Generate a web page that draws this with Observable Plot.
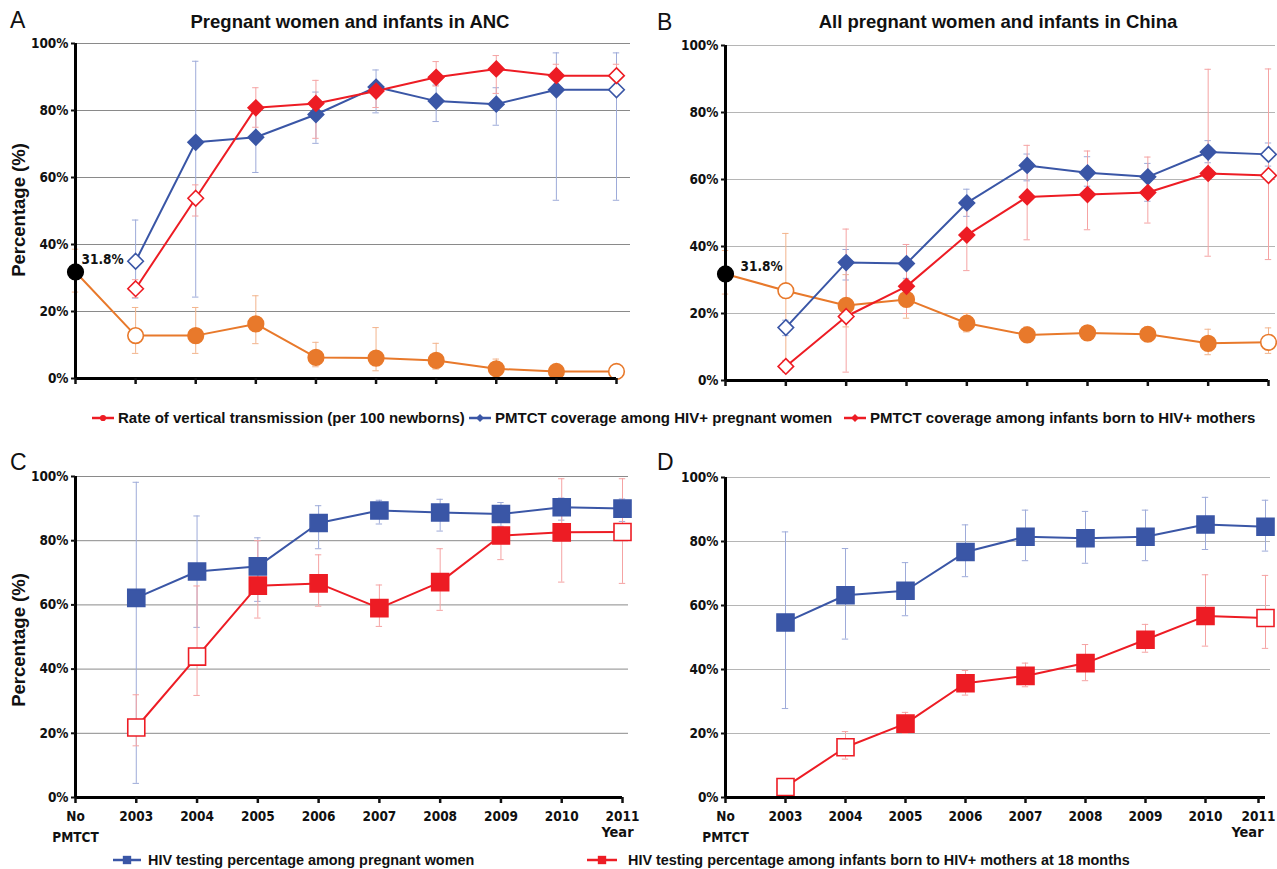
<!DOCTYPE html>
<html><head><meta charset="utf-8">
<script src="https://cdn.jsdelivr.net/npm/d3@7"></script>
<script src="https://cdn.jsdelivr.net/npm/@observablehq/plot@0.6"></script>
<style>
body{margin:0;background:#fff;width:1277px;height:869px;position:relative;overflow:hidden;font-family:"Liberation Sans",Arial,sans-serif;color:#111;}
.abs{position:absolute;}
.letter{font-size:23px;line-height:1;}
.title{font-size:18.5px;font-weight:bold;transform:translateX(-50%);white-space:nowrap;line-height:1;}
.ylab{font-size:18.5px;font-weight:bold;transform:translate(-50%,-50%) rotate(-90deg);white-space:nowrap;}
.leg{font-size:15px;font-weight:bold;white-space:nowrap;display:flex;align-items:center;}
.leg2{font-size:14.4px;}
.abs svg{overflow:visible;}
</style></head><body>
<script>
// ---------- categories ----------
const xLabels = ["No\nPMTCT","2003","2004","2005","2006","2007","2008","2009","2010","2011"];
const yTicks = [0,20,40,60,80,100];

// ---------- Panel A: Pregnant women and infants in ANC ----------
const aVT    = [31.8, 12.8, 12.8, 16.3, 6.3, 6.1, 5.4, 2.9, 2.1, 2.1];
const aVTlo  = [25.8, 7.5, 7.5, 10.4, 3.5, 2.3, 2.8, 1.5, 0.8, 0.8];
const aVThi  = [38.6, 21.2, 21.2, 24.7, 10.8, 15.2, 10.5, 5.8, 3.5, 3.5];
const aVTopen = [1, 9];
const aPW    = [null, 35.0, 70.5, 72.0, 78.8, 87.0, 82.8, 81.9, 86.2, 86.2];
const aPWlo  = [null, 24.0, 24.3, 61.5, 70.2, 79.3, 76.7, 75.6, 53.2, 53.2];
const aPWhi  = [null, 47.3, 94.7, 82.0, 85.5, 92.1, 87.6, 86.8, 97.2, 97.2];
const aPWopen = [1, 9];
const aINF   = [null, 26.8, 53.8, 80.8, 82.1, 85.8, 89.9, 92.4, 90.4, 90.4];
const aINFlo = [null, 24.2, 48.5, 75.0, 71.7, 80.9, 87.3, 85.1, 87.3, 87.3];
const aINFhi = [null, 29.5, 57.8, 86.8, 89.0, 87.3, 94.6, 96.4, 93.8, 93.8];
const aINFopen = [1, 2, 9];

// ---------- Panel B: All pregnant women and infants in China ----------
const bVT    = [31.8, 26.8, 22.4, 24.2, 17.1, 13.6, 14.2, 13.8, 11.1, 11.4];
const bVTlo  = [25.8, 4.0, 16.0, 18.6, 14.5, 12.0, 12.5, 12.0, 7.7, 8.1];
const bVThi  = [38.8, 43.9, 31.6, 30.0, 20.0, 16.0, 16.0, 16.0, 15.3, 15.7];
const bVTopen = [1, 9];
const bPW    = [null, 15.8, 35.2, 34.9, 53.0, 64.2, 62.0, 60.8, 68.2, 67.5];
const bPWlo  = [null, 13.4, 30.0, 30.5, 49.0, 59.6, 58.0, 53.5, 65.0, 64.0];
const bPWhi  = [null, 18.0, 39.1, 40.6, 57.1, 67.6, 66.8, 64.8, 71.6, 70.9];
const bPWopen = [1, 9];
const bINF   = [null, 4.2, 19.1, 28.1, 43.4, 54.8, 55.5, 56.1, 61.8, 61.2];
const bINFlo = [null, 2.5, 2.5, 20.0, 32.8, 42.0, 45.0, 47.0, 37.1, 36.1];
const bINFhi = [null, 6.0, 45.2, 40.6, 53.9, 70.2, 68.5, 66.7, 92.9, 93.0];
const bINFopen = [1, 2, 9];

// ---------- Panel C ----------
const cPW    = [null, 62.2, 70.4, 72.0, 85.5, 89.4, 88.8, 88.3, 90.4, 90.0];
const cPWlo  = [null, 4.4, 53.0, 61.1, 77.5, 85.2, 83.0, 84.5, 86.4, 86.0];
const cPWhi  = [null, 98.2, 87.7, 80.9, 90.9, 92.6, 92.9, 91.9, 93.3, 93.0];
const cPWopen = [];
const cINF   = [null, 21.8, 43.9, 66.0, 66.7, 59.0, 67.1, 81.6, 82.6, 82.7];
const cINFlo = [null, 16.1, 31.8, 55.9, 59.6, 53.3, 58.3, 74.1, 67.1, 66.7];
const cINFhi = [null, 32.0, 65.9, 80.0, 75.6, 66.2, 77.5, 84.0, 99.3, 99.3];
const cINFopen = [1, 2, 9];

// ---------- Panel D ----------
const dPW    = [null, 54.7, 63.2, 64.6, 76.7, 81.5, 81.0, 81.5, 85.3, 84.6];
const dPWlo  = [null, 27.8, 49.5, 56.8, 69.0, 74.0, 73.2, 74.0, 77.5, 77.0];
const dPWhi  = [null, 83.0, 77.8, 73.4, 85.2, 89.8, 89.4, 89.8, 93.8, 92.9];
const dPWopen = [];
const dINF   = [null, 3.3, 15.7, 23.1, 35.7, 38.0, 42.0, 49.3, 56.7, 56.1];
const dINFlo = [null, null, 12.0, 20.0, 32.0, 34.6, 36.5, 45.4, 47.3, 46.6];
const dINFhi = [null, null, 20.6, 26.6, 39.7, 42.0, 47.8, 54.1, 69.6, 69.4];
const dINFopen = [1, 2, 9];

// ---------- legend / text ----------
const titleA = "Pregnant women and infants in ANC";
const titleB = "All pregnant women and infants in China";
const yLabel = "Percentage (%)";
const legend1 = ["Rate of vertical transmission (per 100 newborns)", "PMTCT coverage among HIV+ pregnant women", "PMTCT coverage among infants born to HIV+ mothers"];
const legend2 = ["HIV testing percentage among pregnant women", "HIV testing percentage among infants born to HIV+ mothers at 18 months"];
const baseLabel = "31.8%";

const BLUE = "#3a56a6", RED = "#ed1c24", ORANGE = "#e8792b";
const BLUE_L = "#9eabd9", RED_L = "#f5a3a3", ORANGE_L = "#f2b48c";
const TICKFONT = "'DejaVu Sans Condensed', 'Liberation Sans', Arial, sans-serif";

function rows(vals, lo, hi, openIdx, blackFirst) {
  return vals.map((v, i) => ({x: i, v, lo: lo[i], hi: hi[i], open: openIdx.includes(i), black: blackFirst && i === 0}))
             .filter(d => d.v != null);
}

function panel(o) {
  const ppu = (o.x9 - o.x0) / 9;
  const dmax = 9 + (o.xEnd - o.x9) / ppu;
  const marginLeft = o.x0 - o.left;
  const marginRight = o.width - (o.xEnd - o.left);
  const marginTop = o.y100 - o.top;
  const marginBottom = o.height - (o.y0 - o.top);
  const cap = 3.2 / ppu;
  const marks = [];
  marks.push(Plot.ruleY([20, 40, 60, 80, 100], {x1: 0, x2: dmax, stroke: o.grid, strokeWidth: 1}));
  for (const s of o.series) {
    const eb = s.rows.filter(d => d.lo != null && d.hi != null);
    marks.push(Plot.ruleX(eb, {x: "x", y1: "lo", y2: "hi", stroke: s.light, strokeWidth: 1}));
    marks.push(Plot.ruleY(eb, {y: "lo", x1: d => d.x - cap, x2: d => d.x + cap, stroke: s.light, strokeWidth: 1}));
    marks.push(Plot.ruleY(eb, {y: "hi", x1: d => d.x - cap, x2: d => d.x + cap, stroke: s.light, strokeWidth: 1}));
  }
  for (const s of o.series) {
    marks.push(Plot.line(s.rows, {x: "x", y: "v", stroke: s.color, strokeWidth: 2}));
  }
  for (const s of o.series) {
    marks.push(Plot.dot(s.rows, {
      x: "x", y: "v", symbol: s.symbol, r: s.r,
      fill: d => d.black ? "#000" : d.open ? "#fff" : s.color,
      stroke: d => d.black ? "#000" : s.color,
      strokeWidth: 1.6
    }));
  }
  marks.push(Plot.ruleX([0], {y1: 0, y2: 100, stroke: "#000", strokeWidth: 3}));
  marks.push(Plot.ruleY([0], {x1: 0, x2: 9, stroke: "#000", strokeWidth: 3}));
  marks.push(Plot.axisY(yTicks, {tickFormat: d => d + "%", tickSize: 4, tickPadding: 3, strokeWidth: 2, fontSize: 13.5, fontWeight: "bold", fontFamily: TICKFONT, label: null}));
  const xfmt = o.xlabels ? (d => xLabels[d]) : (() => "");
  const axOpts = {tickFormat: xfmt, tickSize: 6, tickPadding: 2, strokeWidth: 2.5, fontSize: 13.5, fontWeight: "bold", fontFamily: TICKFONT, lineHeight: 1.6, label: null};
  marks.push(Plot.axisX(d3.range(9), axOpts));
  marks.push(Plot.axisX([9], {...axOpts, dx: o.lastDx || 0}));
  if (o.base) {
    marks.push(Plot.text([{x: 0, y: 31.8}], {x: "x", y: "y", text: () => baseLabel, dx: o.base.dx, dy: o.base.dy, textAnchor: "start", fontSize: 13.5, fontWeight: "bold", fontFamily: TICKFONT}));
  }
  if (o.year) {
    marks.push(Plot.text([{x: 9, y: 0}], {x: "x", y: "y", text: () => "Year", dx: o.year.dx, dy: o.year.dy, fontSize: 14.5, fontWeight: "bold", fontFamily: TICKFONT}));
  }
  const svg = Plot.plot({
    width: o.width, height: o.height,
    marginLeft, marginRight, marginTop, marginBottom,
    x: {domain: [0, dmax]},
    y: {domain: [0, 100]},
    color: {type: "identity"},
    style: {fontFamily: "'Liberation Sans', Arial, sans-serif", fontSize: "13px", color: "#111", background: "transparent", overflow: "visible"},
    marks
  });
  const div = document.createElement("div");
  div.className = "abs";
  div.style.left = o.left + "px";
  div.style.top = o.top + "px";
  div.appendChild(svg);
  document.body.appendChild(div);
}

function addText(cls, text, left, top) {
  const d = document.createElement("div");
  d.className = "abs " + cls;
  d.style.left = left + "px";
  d.style.top = top + "px";
  d.textContent = text;
  document.body.appendChild(d);
  return d;
}

const DIAMOND = "diamond2", SQUARE = "square", CIRCLE = "circle";

panel({left: 0, top: 0, width: 640, height: 400, x0: 75, x9: 616, xEnd: 630, y100: 43, y0: 378, grid: "#8a8a8a",
  base: {dx: 6, dy: -12},
  series: [
    {rows: rows(aVT, aVTlo, aVThi, aVTopen, true), color: ORANGE, light: ORANGE_L, symbol: CIRCLE, r: 7.8},
    {rows: rows(aPW, aPWlo, aPWhi, aPWopen), color: BLUE, light: BLUE_L, symbol: DIAMOND, r: 7},
    {rows: rows(aINF, aINFlo, aINFhi, aINFopen), color: RED, light: RED_L, symbol: DIAMOND, r: 7}
  ]});

panel({left: 645, top: 0, width: 632, height: 400, x0: 725, x9: 1268, xEnd: 1275, y100: 45, y0: 380, grid: "#b5b5b5",
  base: {dx: 15, dy: -7},
  series: [
    {rows: rows(bVT, bVTlo, bVThi, bVTopen, true), color: ORANGE, light: ORANGE_L, symbol: CIRCLE, r: 7.8},
    {rows: rows(bPW, bPWlo, bPWhi, bPWopen), color: BLUE, light: BLUE_L, symbol: DIAMOND, r: 7},
    {rows: rows(bINF, bINFlo, bINFhi, bINFopen), color: RED, light: RED_L, symbol: DIAMOND, r: 7}
  ]});

panel({left: 0, top: 440, width: 645, height: 410, x0: 75, x9: 622, xEnd: 628, y100: 476, y0: 797, grid: "#8a8a8a",
  xlabels: true, year: {dx: -5, dy: 35},
  series: [
    {rows: rows(cPW, cPWlo, cPWhi, cPWopen), color: BLUE, light: BLUE_L, symbol: SQUARE, r: 9.6},
    {rows: rows(cINF, cINFlo, cINFhi, cINFopen), color: RED, light: RED_L, symbol: SQUARE, r: 9.6}
  ]});

panel({left: 645, top: 440, width: 632, height: 410, x0: 725, x9: 1265, xEnd: 1270, y100: 477, y0: 797, grid: "#b5b5b5",
  xlabels: true, year: {dx: -18, dy: 35}, lastDx: -7,
  series: [
    {rows: rows(dPW, dPWlo, dPWhi, dPWopen), color: BLUE, light: BLUE_L, symbol: SQUARE, r: 9.6},
    {rows: rows(dINF, dINFlo, dINFhi, dINFopen), color: RED, light: RED_L, symbol: SQUARE, r: 9.6}
  ]});

// panel letters, titles, axis labels
addText("letter", "A", 10, 9);
addText("letter", "B", 657, 11);
addText("letter", "C", 10, 451);
addText("letter", "D", 657, 451);
addText("title", titleA, 350, 13);
addText("title", titleB, 998, 13);
addText("ylab", yLabel, 19, 210);
addText("ylab", yLabel, 19, 640);

// legends
function legendItem(left, top, text, color, symbol, lineW, cls, gap) {
  const d = document.createElement("div");
  d.className = "abs leg " + (cls || "");
  d.style.left = left + "px";
  d.style.top = top + "px";
  const ns = "http://www.w3.org/2000/svg";
  const svg = document.createElementNS(ns, "svg");
  svg.setAttribute("width", lineW);
  svg.setAttribute("height", 14);
  svg.style.marginRight = (gap || 4) + "px";
  const line = document.createElementNS(ns, "line");
  line.setAttribute("x1", 0); line.setAttribute("x2", lineW);
  line.setAttribute("y1", 7); line.setAttribute("y2", 7);
  line.setAttribute("stroke", color); line.setAttribute("stroke-width", 2.5);
  svg.appendChild(line);
  const m = document.createElementNS(ns, "path");
  const c = lineW / 2;
  let p;
  if (symbol === "circle") p = d3.symbol(d3.symbolCircle, 30)();
  else if (symbol === "diamond") p = d3.symbol(d3.symbolDiamond2, 40)();
  else p = d3.symbol(d3.symbolSquare, 70)();
  m.setAttribute("d", p);
  m.setAttribute("transform", `translate(${c},7)`);
  m.setAttribute("fill", color);
  svg.appendChild(m);
  d.appendChild(svg);
  const t = document.createElement("span");
  t.textContent = text;
  d.appendChild(t);
  document.body.appendChild(d);
}
legendItem(92, 409, legend1[0], RED, "circle", 22);
legendItem(469, 409, legend1[1], BLUE, "diamond", 22);
legendItem(844, 409, legend1[2], RED, "diamond", 22);
legendItem(113, 852, legend2[0], BLUE, "square", 28, "leg2", 7);
legendItem(587, 852, legend2[1], RED, "square", 30, "leg2", 11);
</script>
</body></html>
